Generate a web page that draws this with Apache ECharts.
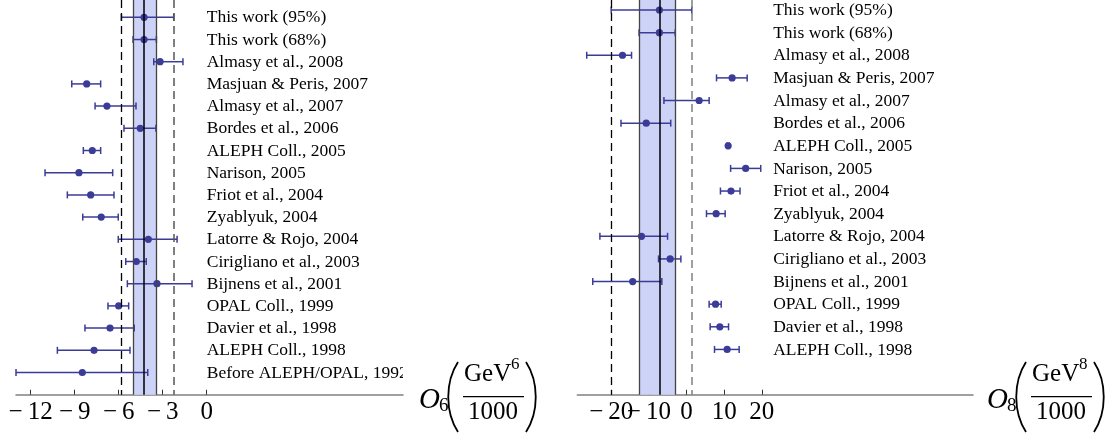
<!DOCTYPE html>
<html><head><meta charset="utf-8">
<script src="https://cdn.jsdelivr.net/npm/echarts@6/dist/echarts.min.js"></script>
<style>html,body{margin:0;padding:0;background:#fff}#c{width:1110px;height:434px}</style>
</head><body><div id="c"></div>
<script>
const namesO6 = ['This work (95%)','This work (68%)','Almasy et al., 2008','Masjuan & Peris, 2007','Almasy et al., 2007','Bordes et al., 2006','ALEPH Coll., 2005','Narison, 2005','Friot et al., 2004','Zyablyuk, 2004','Latorre & Rojo, 2004','Cirigliano et al., 2003','Bijnens et al., 2001','OPAL Coll., 1999','Davier et al., 1998','ALEPH Coll., 1998','Before ALEPH/OPAL, 1992'];
const namesO8 = namesO6.slice(0, 16);

const o6Center = [-4.27,-4.27,-3.18,-8.18,-6.80,-4.53,-7.80,-8.71,-7.91,-7.19,-3.98,-4.80,-3.39,-6.00,-6.59,-7.68,-8.48];
const o6Low    = [-5.82,-5.02,-3.61,-9.20,-7.61,-5.64,-8.41,-11.02,-9.50,-8.45,-6.03,-5.52,-5.41,-6.73,-8.30,-10.18,-13.0];
const o6High   = [-2.25,-3.43,-1.62,-7.23,-4.82,-3.46,-7.23,-6.41,-6.32,-6.03,-2.02,-4.12,-1.00,-5.32,-4.94,-5.23,-4.02];

const o8Center = [-7.2,-7.2,-17.0,12.1,3.35,-10.7,11.05,15.7,11.8,7.86,-11.95,-4.35,-14.3,7.7,8.84,10.78];
const o8Low    = [-20.0,-12.6,-26.5,7.96,-6.0,-17.4,10.75,11.7,9.0,5.3,-23.0,-7.43,-24.9,6.0,6.27,7.43];
const o8High   = [1.4,-3.0,-14.6,16.1,6.0,-4.2,11.35,19.7,14.2,10.25,-5.04,-1.5,-6.56,9.2,11.15,13.97];

const o6Ticks = [-12,-9,-6,-3,0];
const o8Ticks = [-20,-10,0,10,20];

const o6Band = [-5.02,-3.43], o6Mid = -4.27, o6Dash = [-5.82,-2.25];
const o8Band = [-12.6,-3.0],  o8Mid = -7.2,  o8Dash = [-20.0,1.4];

const FONT = 'Liberation Serif';
const BAR = '#3b3b98';

function errRender(params, api){
  const y = api.value(3);
  const c = api.coord([api.value(0), y]);
  const l = api.coord([api.value(1), y]);
  const h = api.coord([api.value(2), y]);
  const cap = 3.5;
  return {type:'group', children:[
    {type:'line', shape:{x1:l[0],y1:l[1],x2:h[0],y2:h[1]}, style:{stroke:BAR,lineWidth:1.5}},
    {type:'line', shape:{x1:l[0],y1:l[1]-cap,x2:l[0],y2:l[1]+cap}, style:{stroke:BAR,lineWidth:1.5}},
    {type:'line', shape:{x1:h[0],y1:h[1]-cap,x2:h[0],y2:h[1]+cap}, style:{stroke:BAR,lineWidth:1.5}},
    {type:'circle', shape:{cx:c[0],cy:c[1],r:3.6}, style:{fill:BAR}}
  ]};
}
function labelSeries(names, xPos, idx){
  return {type:'custom', xAxisIndex:idx, yAxisIndex:idx, clip:true, silent:true, z:5,
    data: names.map((n,i)=>[xPos, i]),
    encode:{x:0,y:1},
    renderItem:(params, api)=>{
      const p = api.coord([api.value(0), api.value(1)]);
      return {type:'text', x:p[0], y:p[1]+0.5, style:{text:names[params.dataIndex], fontFamily:FONT, fontSize:17.5, fill:'#000', verticalAlign:'middle', align:'left'}};
    }};
}
function errSeries(c, lo, hi, idx){
  return {type:'custom', xAxisIndex:idx, yAxisIndex:idx, clip:false, silent:true, z:4,
    data: c.map((v,i)=>[v, lo[i], hi[i], i]),
    encode:{x:[0,1,2], y:3},
    renderItem: errRender};
}
function bandSeries(band, mid, dash, idx, dash2Color){
  return {type:'line', xAxisIndex:idx, yAxisIndex:idx, data:[], silent:true,
    markArea:{silent:true, itemStyle:{color:'#ccd3f6', borderWidth:0}, data:[[{xAxis:band[0]},{xAxis:band[1]}]]},
    markLine:{silent:true, symbol:'none', label:{show:false}, animation:false,
      data:[
        {xAxis:band[0], lineStyle:{color:'#444', width:1.3, type:'solid'}},
        {xAxis:band[1], lineStyle:{color:'#444', width:1.3, type:'solid'}},
        {xAxis:mid, lineStyle:{color:'#000', width:1.5, type:'solid'}},
        {xAxis:dash[0], lineStyle:{color:'#000', width:1.3, type:[8,5]}},
        {xAxis:dash[1], lineStyle:{color:dash2Color, width:1.5, type:[8,5]}}
      ]}};
}
const fmt = v => v < 0 ? '\u2212\u2009' + Math.abs(v) : String(v);
function xAxisDef(idx, min, max, ticks, labels, showLine){
  return {gridIndex:idx, type:'value', min:min, max:max, position:'bottom', offset:0,
    axisLine:{show:showLine, onZero:false, lineStyle:{color:'#808080', width:1.5}},
    axisTick:{show:showLine, inside:true, length:5, customValues:ticks, lineStyle:{color:'#333', width:1}},
    axisLabel:{customValues:labels, formatter:fmt, fontFamily:FONT, fontSize:25, color:'#000', margin:5,
      hideOverlap:false, showMinLabel:true, showMaxLabel:true},
    splitLine:{show:false}};
}
function title(x0, sub, sup){
  const els = [];
  els.push({type:'text', left:x0-1, top:386, style:{text:'O', fontFamily:FONT, fontStyle:'italic', fontSize:29, fill:'#000'}});
  els.push({type:'text', left:x0+19, top:397, style:{text:sub, fontFamily:FONT, fontSize:19, fill:'#000'}});
  const pl = x0+28;
  els.push({type:'bezierCurve', shape:{x1:pl+10,y1:362,x2:pl+10,y2:432,cpx1:pl-3,cpy1:382,cpx2:pl-3,cpy2:412}, style:{stroke:'#000', lineWidth:1.8, fill:null}});
  const fx = x0+43;
  els.push({type:'text', left:fx+1, top:362, style:{text:'GeV', fontFamily:FONT, fontSize:25, fill:'#000'}});
  els.push({type:'text', left:fx+48, top:356, style:{text:sup, fontFamily:FONT, fontSize:17, fill:'#000'}});
  els.push({type:'rect', shape:{x:fx, y:396, width:61, height:1.3}, style:{fill:'#000'}});
  els.push({type:'text', left:fx+5, top:400, style:{text:'1000', fontFamily:FONT, fontSize:25, fill:'#000'}});
  const pr = fx+63;
  els.push({type:'bezierCurve', shape:{x1:pr,y1:362,x2:pr,y2:432,cpx1:pr+13,cpy1:382,cpx2:pr+13,cpy2:412}, style:{stroke:'#000', lineWidth:1.8, fill:null}});
  return els;
}

// split the right panel's labels over two overlaid axes so the touching "−20" and "−10" both show
const o8LabelsA = o8Ticks.filter((v,i)=>i!==1);
const o8LabelsB = o8Ticks.filter((v,i)=>i===1);

const chart = echarts.init(document.getElementById('c'), null, {renderer:'canvas'});
chart.setOption({
  animation:false,
  backgroundColor:'#fff',
  grid:[{left:16, top:0, width:387, height:394.7},{left:577.3, top:0, width:395.7, height:394.7}],
  xAxis:[xAxisDef(0,-13,13.38,o6Ticks,o6Ticks,true),
         xAxisDef(1,-29,76.05,o8Ticks,o8LabelsA,true),
         xAxisDef(1,-29,76.05,o8Ticks,o8LabelsB,false)],
  yAxis:[{gridIndex:0,type:'value',inverse:true,min:-0.78,max:17,show:false},
         {gridIndex:1,type:'value',inverse:true,min:-0.442,max:17,show:false}],
  series:[
    bandSeries(o6Band,o6Mid,o6Dash,0,'#555'),
    bandSeries(o8Band,o8Mid,o8Dash,1,'#808080'),
    errSeries(o6Center,o6Low,o6High,0),
    errSeries(o8Center,o8Low,o8High,1),
    labelSeries(namesO6, 0, 0),
    labelSeries(namesO8, 23, 1)
  ],
  graphic:[...title(420,'6','6'), ...title(988,'8','8')]
});
</script></body></html>
